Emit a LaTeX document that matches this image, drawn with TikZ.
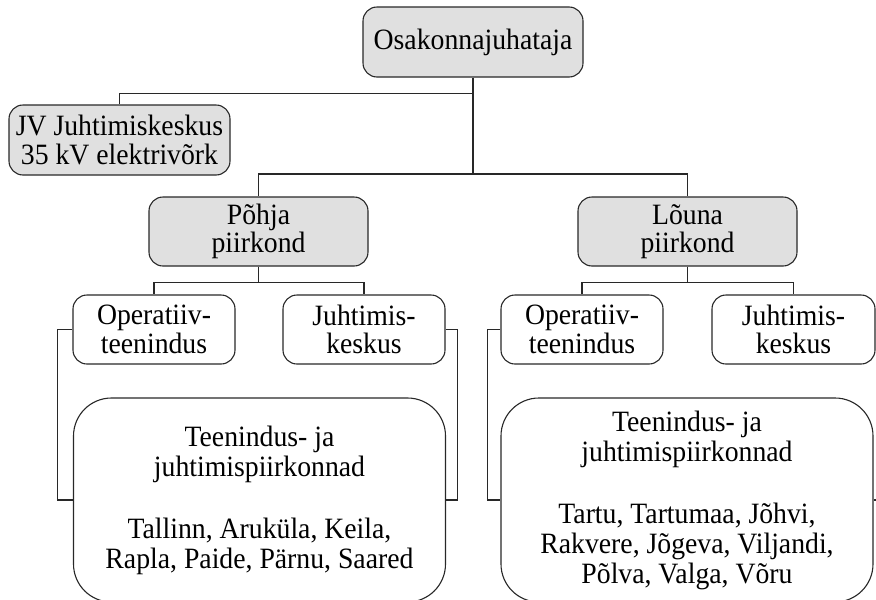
\documentclass[tikz,border=0pt]{standalone}
\usepackage{fontspec}
\setmainfont{Liberation Serif}[FakeStretch=0.94]
\usepackage{tikz}
\definecolor{boxgrey}{RGB}{224,224,224}
\definecolor{linegrey}{RGB}{40,40,40}
\tikzset{
  font={\fontsize{29.5pt}{28.5pt}\selectfont},
  unit/.style={draw=linegrey, line width=1.1pt, rounded corners=14pt,
    inner sep=0pt, align=center},
  greybox/.style={unit, fill=boxgrey},
  whitebox/.style={unit, fill=white},
  bigbox/.style={unit, fill=white, rounded corners=38pt,
    minimum width=372pt, minimum height=204pt},
  link/.style={draw=linegrey, line width=1.1pt}}

\begin{document}
\begin{tikzpicture}[x=1pt,y=-1pt]
\useasboundingbox (0,0) rectangle (876,600);
% top level
\node [greybox, minimum width=220pt, minimum height=70pt] (osak) at (473,42) {Osakonnajuhataja};
\node [greybox, minimum width=221pt, minimum height=70pt] (jv) at (119.5,140) {JV Juhtimiskeskus\\35 kV elektriv\~ork};
\node [greybox, minimum width=219pt, minimum height=69pt] (pohja) at (258.5,231.5) {P\~ohja\\piirkond};
\node [greybox, minimum width=219pt, minimum height=69pt] (louna) at (687.5,231.5) {L\~ouna\\piirkond};
\coordinate (bar) at (0,174);
% Pohja piirkond
\node [whitebox, minimum width=162pt, minimum height=69pt] (pop) at (154,329.5) {Operatiiv-\\teenindus};
\node [whitebox, minimum width=162pt, minimum height=69pt] (pjk) at (364,329.5) {Juhtimis-\\keskus};
\node [bigbox, font={\fontsize{29.5pt}{30pt}\selectfont}] (pbig) at (259.5,500) {Teenindus- ja\\juhtimispiirkonnad\\[32pt]Tallinn, Aruk\"ula, Keila,\\Rapla, Paide, P\"arnu, Saared};
% Louna piirkond
\node [whitebox, minimum width=162pt, minimum height=69pt] (lop) at (582,329.5) {Operatiiv-\\teenindus};
\node [whitebox, minimum width=163pt, minimum height=69pt] (ljk) at (793.5,329.5) {Juhtimis-\\keskus};
\node [bigbox, font={\fontsize{29.5pt}{30pt}\selectfont}] (lbig) at (687,500) {Teenindus- ja\\juhtimispiirkonnad\\[32pt]Tartu, Tartumaa, J\~ohvi,\\Rakvere, J\~ogeva, Viljandi,\\P\~olva, Valga, V\~oru};
% connectors
\draw [link] (osak.south) -- ++(0,16) -| (jv.north);
\draw [link] (osak.south) -- (osak.south |- bar) -| (pohja.north);
\draw [link] (osak.south |- bar) -| (louna.north);
\draw [link] (pohja.south) -- ++(0,16) -| (pop.north);
\draw [link] (pohja.south) -- ++(0,16) -| (pjk.north);
\draw [link] (louna.south) -- ++(0,16) -| (lop.north);
\draw [link] (louna.south) -- ++(0,16) -| (ljk.north);
\draw [link] (pop.west) -- ++(-15,0) |- (pbig.west);
\draw [link] (pjk.east) -- ++(12,0) |- (pbig.east);
\draw [link] (lop.west) -- ++(-13,0) |- (lbig.west);
\draw [link] (ljk.east) -- ++(12,0) |- (lbig.east);
\end{tikzpicture}
\end{document}
